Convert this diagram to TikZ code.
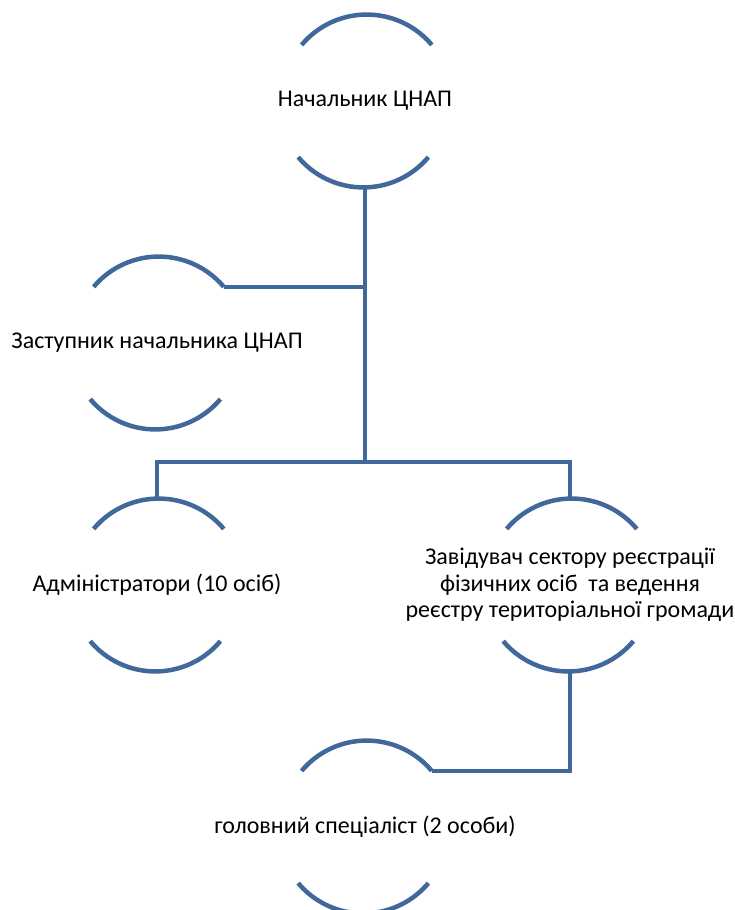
\documentclass[tikz,border=0pt]{standalone}
\usepackage{fontspec}
\setmainfont{Carlito}
\usetikzlibrary{shapes}

\begin{document}
\begin{tikzpicture}[x=1pt,y=1pt]
        \tikzstyle{every path}=[line width=4.5pt]
        \definecolor{arcblue}{RGB}{64,104,155}

        \edef\sizeunit{170pt}
        \tikzstyle{unit}=[circle,draw=none,minimum size=\sizeunit,inner sep=0pt]
        \tikzstyle{txt}=[align=center,font=\fontsize{24}{26.5}\selectfont]
        \tikzstyle{link}=[draw=arcblue,line cap=butt]

        \useasboundingbox (0,0) rectangle (735,-910);

        \node[unit, label={[txt]center:Начальник ЦНАП}] at (365,-101) (chief) {};
        \node[unit, label={[txt]center:Заступник начальника ЦНАП}] at (157,-343) (deputy) {};
        \node[unit, label={[txt]center:Адміністратори (10 осіб)}] at (157,-585) (admins) {};
        \node[unit, label={[txt]center:Завідувач сектору реєстрації\\фізичних осіб\ \ та ведення\\реєстру територіальної громади}] at (570,-585) (head) {};
        \node[unit, label={[txt]center:головний спеціаліст (2 особи)}] at (365,-827) (spec) {};

        %arcs above and below each unit
        \foreach \n in {chief, deputy, admins, head, spec} {
            \draw[link] (\n.40) arc[start angle=40, end angle=140, radius=85pt];
            \draw[link] (\n.220) arc[start angle=220, end angle=320, radius=85pt];
        };

        \coordinate (bus) at (365,-462);
        \draw[link] (chief.south) -- (bus);
        \draw[link] (deputy.40) -- (deputy.40 -| chief.south);
        \draw[link] (admins.north) |- (bus) -| (head.north);
        \draw[link] (head.south) |- (spec.40);
\end{tikzpicture}
\end{document}
